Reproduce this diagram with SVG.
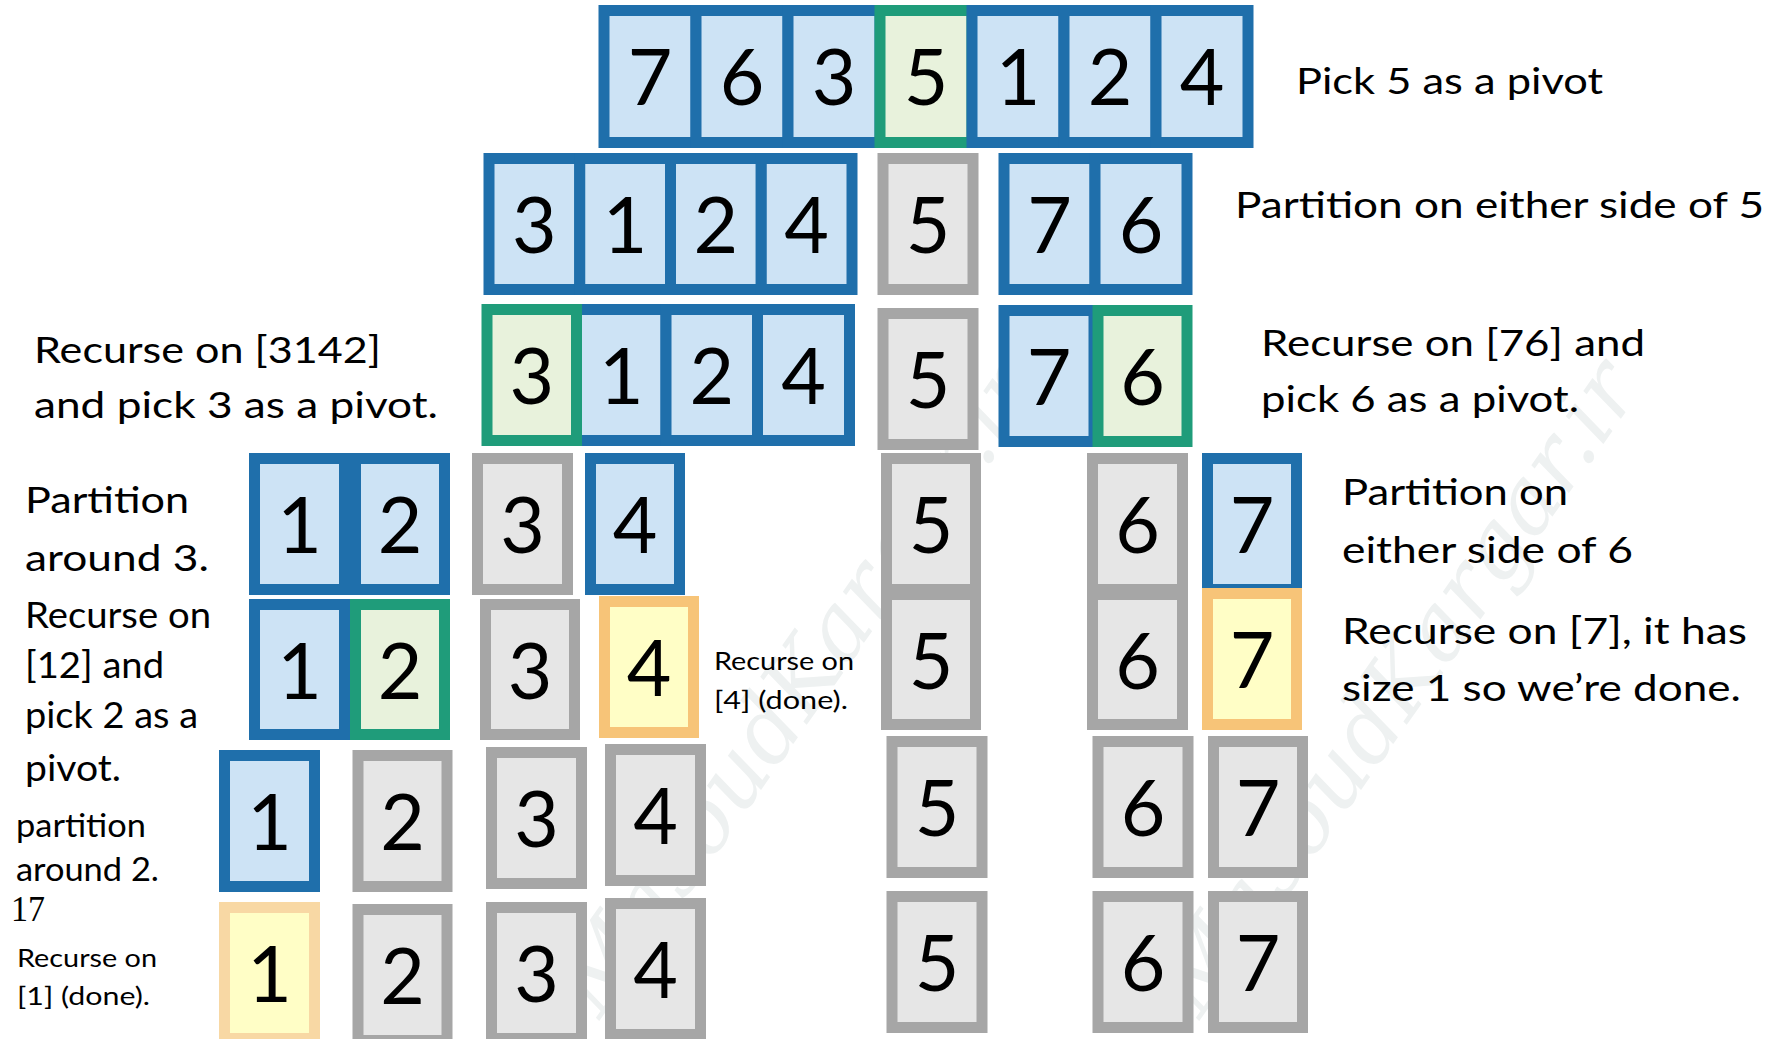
<svg xmlns="http://www.w3.org/2000/svg" width="1773" height="1039" viewBox="0 0 1773 1039">
<style>
  .c rect{stroke-width:11}
  .b rect{fill:#cde3f5;stroke:#1f6fab}
  .g rect{fill:#e8f2dc;stroke:#1f9c7a}
  .gr rect{fill:#e6e6e6;stroke:#a6a6a6}
  .y rect{fill:#fffec6;stroke:#f7c478}
  .y2 rect{fill:#fffec6;stroke:#f8d8a4}
  .c text{font-family:Lato,"Open Sans",sans-serif;font-size:77px;fill:#000;text-anchor:middle}
  .t{font-family:Lato,"Open Sans",sans-serif;font-size:37px;fill:#000}
  .s{font-family:Lato,"Open Sans",sans-serif;font-size:25px;fill:#000}
  .m{font-family:Lato,"Open Sans",sans-serif;font-size:33px;fill:#000}
  .wm{font-family:"DejaVu Serif",serif;font-style:italic;font-size:90px;fill:#eef1f1}
</style>
<g id="watermark">
  <text class="wm" transform="translate(600,1020) rotate(-55)">MasoudKargar.ir</text>
  <text class="wm" transform="translate(1200,1020) rotate(-55)">MasoudKargar.ir</text>
</g>
<g id="connectors"></g>
<!-- Row 1 -->
<g id="r1c1" class="c b"><rect x="604" y="10.5" width="92" height="132"/><text x="650" y="105">7</text></g>
<g id="r1c2" class="c b"><rect x="696" y="10.5" width="92" height="132"/><text x="742" y="105">6</text></g>
<g id="r1c3" class="c b"><rect x="788" y="10.5" width="92" height="132"/><text x="834" y="105">3</text></g>
<g id="r1c4" class="c g"><rect x="880" y="10.5" width="92" height="132"/><text x="926" y="105">5</text></g>
<g id="r1c5" class="c b"><rect x="972" y="10.5" width="92" height="132"/><text x="1018" y="105">1</text></g>
<g id="r1c6" class="c b"><rect x="1064" y="10.5" width="92" height="132"/><text x="1110" y="105">2</text></g>
<g id="r1c7" class="c b"><rect x="1156" y="10.5" width="92" height="132"/><text x="1202" y="105">4</text></g>
<!-- Row 2 -->
<g id="r2c1" class="c b"><rect x="489" y="158.5" width="90.75" height="131"/><text x="534.4" y="253">3</text></g>
<g id="r2c2" class="c b"><rect x="579.75" y="158.5" width="90.75" height="131"/><text x="625.1" y="253">1</text></g>
<g id="r2c3" class="c b"><rect x="670.5" y="158.5" width="90.75" height="131"/><text x="715.9" y="253">2</text></g>
<g id="r2c4" class="c b"><rect x="761.25" y="158.5" width="90.75" height="131"/><text x="806.6" y="253">4</text></g>
<g id="r2c5" class="c gr"><rect x="883" y="158.5" width="90" height="131"/><text x="928" y="253">5</text></g>
<g id="r2c6" class="c b"><rect x="1004" y="158.5" width="91" height="131"/><text x="1049.5" y="253">7</text></g>
<g id="r2c7" class="c b"><rect x="1095" y="158.5" width="92" height="131"/><text x="1141" y="253">6</text></g>
<!-- Row 3 -->
<g id="r3c2" class="c b"><rect x="576.5" y="309.5" width="89.5" height="131"/><text x="621.25" y="404">1</text></g>
<g id="r3c3" class="c b"><rect x="666" y="309.5" width="91.5" height="131"/><text x="711.75" y="404">2</text></g>
<g id="r3c4" class="c b"><rect x="757.5" y="309.5" width="92" height="131"/><text x="803.5" y="404">4</text></g>
<g id="r3c1" class="c g"><rect x="487" y="309.5" width="89.5" height="131"/><text x="531.75" y="404">3</text></g>
<g id="r3c5" class="c gr"><rect x="883" y="313.5" width="90" height="131"/><text x="928" y="408">5</text></g>
<g id="r3c6" class="c b"><rect x="1004" y="310.5" width="90" height="131"/><text x="1049" y="405">7</text></g>
<g id="r3c7" class="c g"><rect x="1098" y="310.5" width="89" height="131"/><text x="1142.5" y="405">6</text></g>
<!-- Row 4 -->
<g id="r4c1" class="c b"><rect x="254.5" y="458.5" width="90" height="131"/><text x="299.5" y="553">1</text></g>
<g id="r4c2" class="c b"><rect x="355.5" y="458.5" width="89" height="131"/><text x="400" y="553">2</text></g>
<g id="r4c3" class="c gr"><rect x="477.5" y="458.5" width="90" height="131"/><text x="522.5" y="553">3</text></g>
<g id="r4c4" class="c b"><rect x="590.5" y="458.5" width="89" height="131"/><text x="635" y="553">4</text></g>
<g id="r4c5" class="c gr"><rect x="886.5" y="458.5" width="89" height="131"/><text x="931" y="553">5</text></g>
<g id="r4c6" class="c gr"><rect x="1092.5" y="458.5" width="90" height="131"/><text x="1137.5" y="553">6</text></g>
<g id="r4c7" class="c b"><rect x="1207.5" y="458.5" width="89" height="131"/><text x="1252" y="553">7</text></g>
<!-- Row 5 -->
<g id="r5c1" class="c b"><rect x="254.5" y="604.5" width="90" height="130"/><text x="299.5" y="699">1</text></g>
<g id="r5c2" class="c g"><rect x="355.5" y="604.5" width="89" height="130"/><text x="400" y="699">2</text></g>
<g id="r5c3" class="c gr"><rect x="485.5" y="604.5" width="89" height="130"/><text x="530" y="699">3</text></g>
<g id="r5c4" class="c y"><rect x="604.5" y="601.5" width="89" height="131"/><text x="649" y="696">4</text></g>
<g id="r5c5" class="c gr"><rect x="886.5" y="594.5" width="89" height="130"/><text x="931" y="689">5</text></g>
<g id="r5c6" class="c gr"><rect x="1092.5" y="594.5" width="90" height="130"/><text x="1137.5" y="689">6</text></g>
<g id="r5c7" class="c y"><rect x="1207.5" y="593.5" width="89" height="131"/><text x="1252" y="688">7</text></g>
<!-- Row 6 -->
<g id="r6c1" class="c b"><rect x="224.5" y="755.5" width="90" height="131"/><text x="269.5" y="850">1</text></g>
<g id="r6c2" class="c gr"><rect x="358" y="755.5" width="89" height="131"/><text x="402.5" y="850">2</text></g>
<g id="r6c3" class="c gr"><rect x="491.5" y="752.5" width="90" height="131"/><text x="536.5" y="847">3</text></g>
<g id="r6c4" class="c gr"><rect x="610.5" y="749.5" width="90" height="131"/><text x="655.5" y="844">4</text></g>
<g id="r6c5" class="c gr"><rect x="892" y="741.5" width="90" height="131"/><text x="937" y="836">5</text></g>
<g id="r6c6" class="c gr"><rect x="1098" y="741.5" width="90" height="131"/><text x="1143" y="836">6</text></g>
<g id="r6c7" class="c gr"><rect x="1213.5" y="741.5" width="89" height="131"/><text x="1258" y="836">7</text></g>
<!-- Row 7 -->
<g id="r7c1" class="c y2"><rect x="224.5" y="907.5" width="90" height="131"/><text x="269.5" y="1002">1</text></g>
<g id="r7c2" class="c gr"><rect x="358" y="909.5" width="89" height="131"/><text x="402.5" y="1004">2</text></g>
<g id="r7c3" class="c gr"><rect x="491.5" y="907.5" width="90" height="131"/><text x="536.5" y="1002">3</text></g>
<g id="r7c4" class="c gr"><rect x="610.5" y="903.5" width="90" height="131"/><text x="655.5" y="998">4</text></g>
<g id="r7c5" class="c gr"><rect x="892" y="896.5" width="90" height="131"/><text x="937" y="991">5</text></g>
<g id="r7c6" class="c gr"><rect x="1098" y="896.5" width="90" height="131"/><text x="1143" y="991">6</text></g>
<g id="r7c7" class="c gr"><rect x="1213.5" y="896.5" width="89" height="131"/><text x="1258" y="991">7</text></g>
<!-- Labels -->
<g id="labels">
  <text class="t" x="1296" y="94" textLength="307" lengthAdjust="spacingAndGlyphs">Pick 5 as a pivot</text>
  <text class="t" x="1235" y="218" textLength="529" lengthAdjust="spacingAndGlyphs">Partition on either side of 5</text>
  <text class="t" x="1261" y="356" textLength="384" lengthAdjust="spacingAndGlyphs">Recurse on [76] and</text>
  <text class="t" x="1261" y="412" textLength="318" lengthAdjust="spacingAndGlyphs">pick 6 as a pivot.</text>
  <text class="t" x="34" y="363" textLength="347" lengthAdjust="spacingAndGlyphs">Recurse on [3142]</text>
  <text class="t" x="34" y="418" textLength="404" lengthAdjust="spacingAndGlyphs">and pick 3 as a pivot.</text>
  <text class="t" x="25" y="513" textLength="164" lengthAdjust="spacingAndGlyphs">Partition</text>
  <text class="t" x="25" y="571" textLength="184" lengthAdjust="spacingAndGlyphs">around 3.</text>
  <text class="t" x="25" y="628" textLength="186" lengthAdjust="spacingAndGlyphs">Recurse on</text>
  <text class="t" x="25" y="678" textLength="139" lengthAdjust="spacingAndGlyphs">[12] and</text>
  <text class="t" x="25" y="728" textLength="173" lengthAdjust="spacingAndGlyphs">pick 2 as a</text>
  <text class="t" x="25" y="781" textLength="96" lengthAdjust="spacingAndGlyphs">pivot.</text>
  <text class="m" x="16" y="837" textLength="130" lengthAdjust="spacingAndGlyphs">partition</text>
  <text class="m" x="16" y="881" textLength="143" lengthAdjust="spacingAndGlyphs">around 2.</text>
  <text x="11" y="921" font-family="Liberation Serif,serif" font-size="36" textLength="34" lengthAdjust="spacingAndGlyphs">17</text>
  <text class="s" x="17" y="967" textLength="140" lengthAdjust="spacingAndGlyphs">Recurse on</text>
  <text class="s" x="17" y="1005" textLength="133" lengthAdjust="spacingAndGlyphs">[1] (done).</text>
  <text class="s" x="714" y="670" textLength="140" lengthAdjust="spacingAndGlyphs">Recurse on</text>
  <text class="s" x="714" y="709" textLength="134" lengthAdjust="spacingAndGlyphs">[4] (done).</text>
  <text class="t" x="1342" y="505" textLength="226" lengthAdjust="spacingAndGlyphs">Partition on</text>
  <text class="t" x="1342" y="563" textLength="291" lengthAdjust="spacingAndGlyphs">either side of 6</text>
  <text class="t" x="1342" y="644" textLength="405" lengthAdjust="spacingAndGlyphs">Recurse on [7], it has</text>
  <text class="t" x="1342" y="701" textLength="399" lengthAdjust="spacingAndGlyphs">size 1 so we’re done.</text>
</g>
</svg>
